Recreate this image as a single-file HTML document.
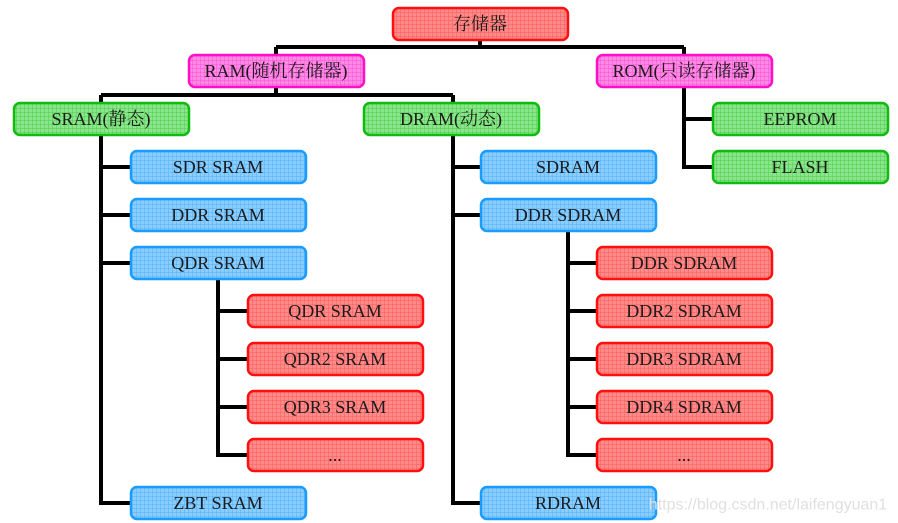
<!DOCTYPE html>
<html><head><meta charset="utf-8">
<style>
html,body{margin:0;padding:0;background:#fff;}
svg{display:block;}
text{font-family:"Liberation Serif","Noto Serif CJK SC",serif;font-size:18px;text-anchor:middle;dominant-baseline:central;fill:#1a1a1a;}
</style></head><body>
<svg width="898" height="523" viewBox="0 0 898 523" xmlns="http://www.w3.org/2000/svg">
<defs>
<pattern id="pr" width="4" height="4" patternUnits="userSpaceOnUse"><rect width="4" height="4" fill="#ff8a8a"/><path d="M0 0H4M0 0V4" stroke="#ff5a5a" stroke-width="1"/></pattern>
<pattern id="pm" width="4" height="4" patternUnits="userSpaceOnUse"><rect width="4" height="4" fill="#ff8ae6"/><path d="M0 0H4M0 0V4" stroke="#ff4ed6" stroke-width="1"/></pattern>
<pattern id="pg" width="4" height="4" patternUnits="userSpaceOnUse"><rect width="4" height="4" fill="#8ae68a"/><path d="M0 0H4M0 0V4" stroke="#50cc50" stroke-width="1"/></pattern>
<pattern id="pb" width="4" height="4" patternUnits="userSpaceOnUse"><rect width="4" height="4" fill="#8acdff"/><path d="M0 0H4M0 0V4" stroke="#50b0ff" stroke-width="1"/></pattern>
</defs>
<g stroke="#000" stroke-width="4" fill="none">
<path d="M480 40V47M276 47H684M276 47V55M684 47V55"/>
<path d="M276 87V95M101 95H453M101 95V103M453 95V103"/>
<path d="M101 135V503H131M101 167H131M101 215H131M101 263H131"/>
<path d="M218 279V455H248M218 311H248M218 359H248M218 407H248"/>
<path d="M453 135V503H481M453 167H481M453 215H481"/>
<path d="M568 231V455H597M568 263H597M568 311H597M568 359H597M568 407H597"/>
<path d="M684 87V167H713M684 119H713"/>
</g>
<g stroke-width="2.5">
<rect x="393" y="8" width="175" height="32" rx="6" fill="url(#pr)" stroke="#ff1010"/>
<rect x="189" y="55" width="175" height="32" rx="6" fill="url(#pm)" stroke="#ff10c8"/>
<rect x="597" y="55" width="175" height="32" rx="6" fill="url(#pm)" stroke="#ff10c8"/>
<rect x="14" y="103" width="175" height="32" rx="6" fill="url(#pg)" stroke="#10bb10"/>
<rect x="364" y="103" width="175" height="32" rx="6" fill="url(#pg)" stroke="#10bb10"/>
<rect x="713" y="103" width="175" height="32" rx="6" fill="url(#pg)" stroke="#10bb10"/>
<rect x="713" y="151" width="175" height="32" rx="6" fill="url(#pg)" stroke="#10bb10"/>
<rect x="131" y="151" width="175" height="32" rx="6" fill="url(#pb)" stroke="#1a9cff"/>
<rect x="131" y="199" width="175" height="32" rx="6" fill="url(#pb)" stroke="#1a9cff"/>
<rect x="131" y="247" width="175" height="32" rx="6" fill="url(#pb)" stroke="#1a9cff"/>
<rect x="131" y="487" width="175" height="32" rx="6" fill="url(#pb)" stroke="#1a9cff"/>
<rect x="481" y="151" width="175" height="32" rx="6" fill="url(#pb)" stroke="#1a9cff"/>
<rect x="481" y="199" width="175" height="32" rx="6" fill="url(#pb)" stroke="#1a9cff"/>
<rect x="481" y="487" width="175" height="32" rx="6" fill="url(#pb)" stroke="#1a9cff"/>
<rect x="248" y="295" width="175" height="32" rx="6" fill="url(#pr)" stroke="#ff1010"/>
<rect x="248" y="343" width="175" height="32" rx="6" fill="url(#pr)" stroke="#ff1010"/>
<rect x="248" y="391" width="175" height="32" rx="6" fill="url(#pr)" stroke="#ff1010"/>
<rect x="248" y="439" width="175" height="32" rx="6" fill="url(#pr)" stroke="#ff1010"/>
<rect x="597" y="247" width="175" height="32" rx="6" fill="url(#pr)" stroke="#ff1010"/>
<rect x="597" y="295" width="175" height="32" rx="6" fill="url(#pr)" stroke="#ff1010"/>
<rect x="597" y="343" width="175" height="32" rx="6" fill="url(#pr)" stroke="#ff1010"/>
<rect x="597" y="391" width="175" height="32" rx="6" fill="url(#pr)" stroke="#ff1010"/>
<rect x="597" y="439" width="175" height="32" rx="6" fill="url(#pr)" stroke="#ff1010"/>
</g>
<text x="480" y="24" fill="#333">存储器</text>
<text x="276" y="71" fill="#333">RAM(随机存储器)</text>
<text x="684" y="71" fill="#333">ROM(只读存储器)</text>
<text x="101" y="119">SRAM(静态)</text>
<text x="451" y="119">DRAM(动态)</text>
<text x="800" y="119" fill="#333">EEPROM</text>
<text x="800" y="167">FLASH</text>
<text x="218" y="167" fill="#333">SDR SRAM</text>
<text x="218" y="215" fill="#333">DDR SRAM</text>
<text x="218" y="263">QDR SRAM</text>
<text x="218" y="503" fill="#333">ZBT SRAM</text>
<text x="568" y="167">SDRAM</text>
<text x="568" y="215">DDR SDRAM</text>
<text x="568" y="503">RDRAM</text>
<text x="335" y="311">QDR SRAM</text>
<text x="335" y="359">QDR2 SRAM</text>
<text x="335" y="407">QDR3 SRAM</text>
<text x="335" y="455">...</text>
<text x="684" y="263">DDR SDRAM</text>
<text x="684" y="311">DDR2 SDRAM</text>
<text x="684" y="359">DDR3 SDRAM</text>
<text x="684" y="407">DDR4 SDRAM</text>
<text x="684" y="455">...</text>
<text x="768" y="505" style="font-family:'Liberation Sans',sans-serif;font-size:16px;fill:#e0e0e0">https://blog.csdn.net/laifengyuan1</text>
</svg>
</body></html>
